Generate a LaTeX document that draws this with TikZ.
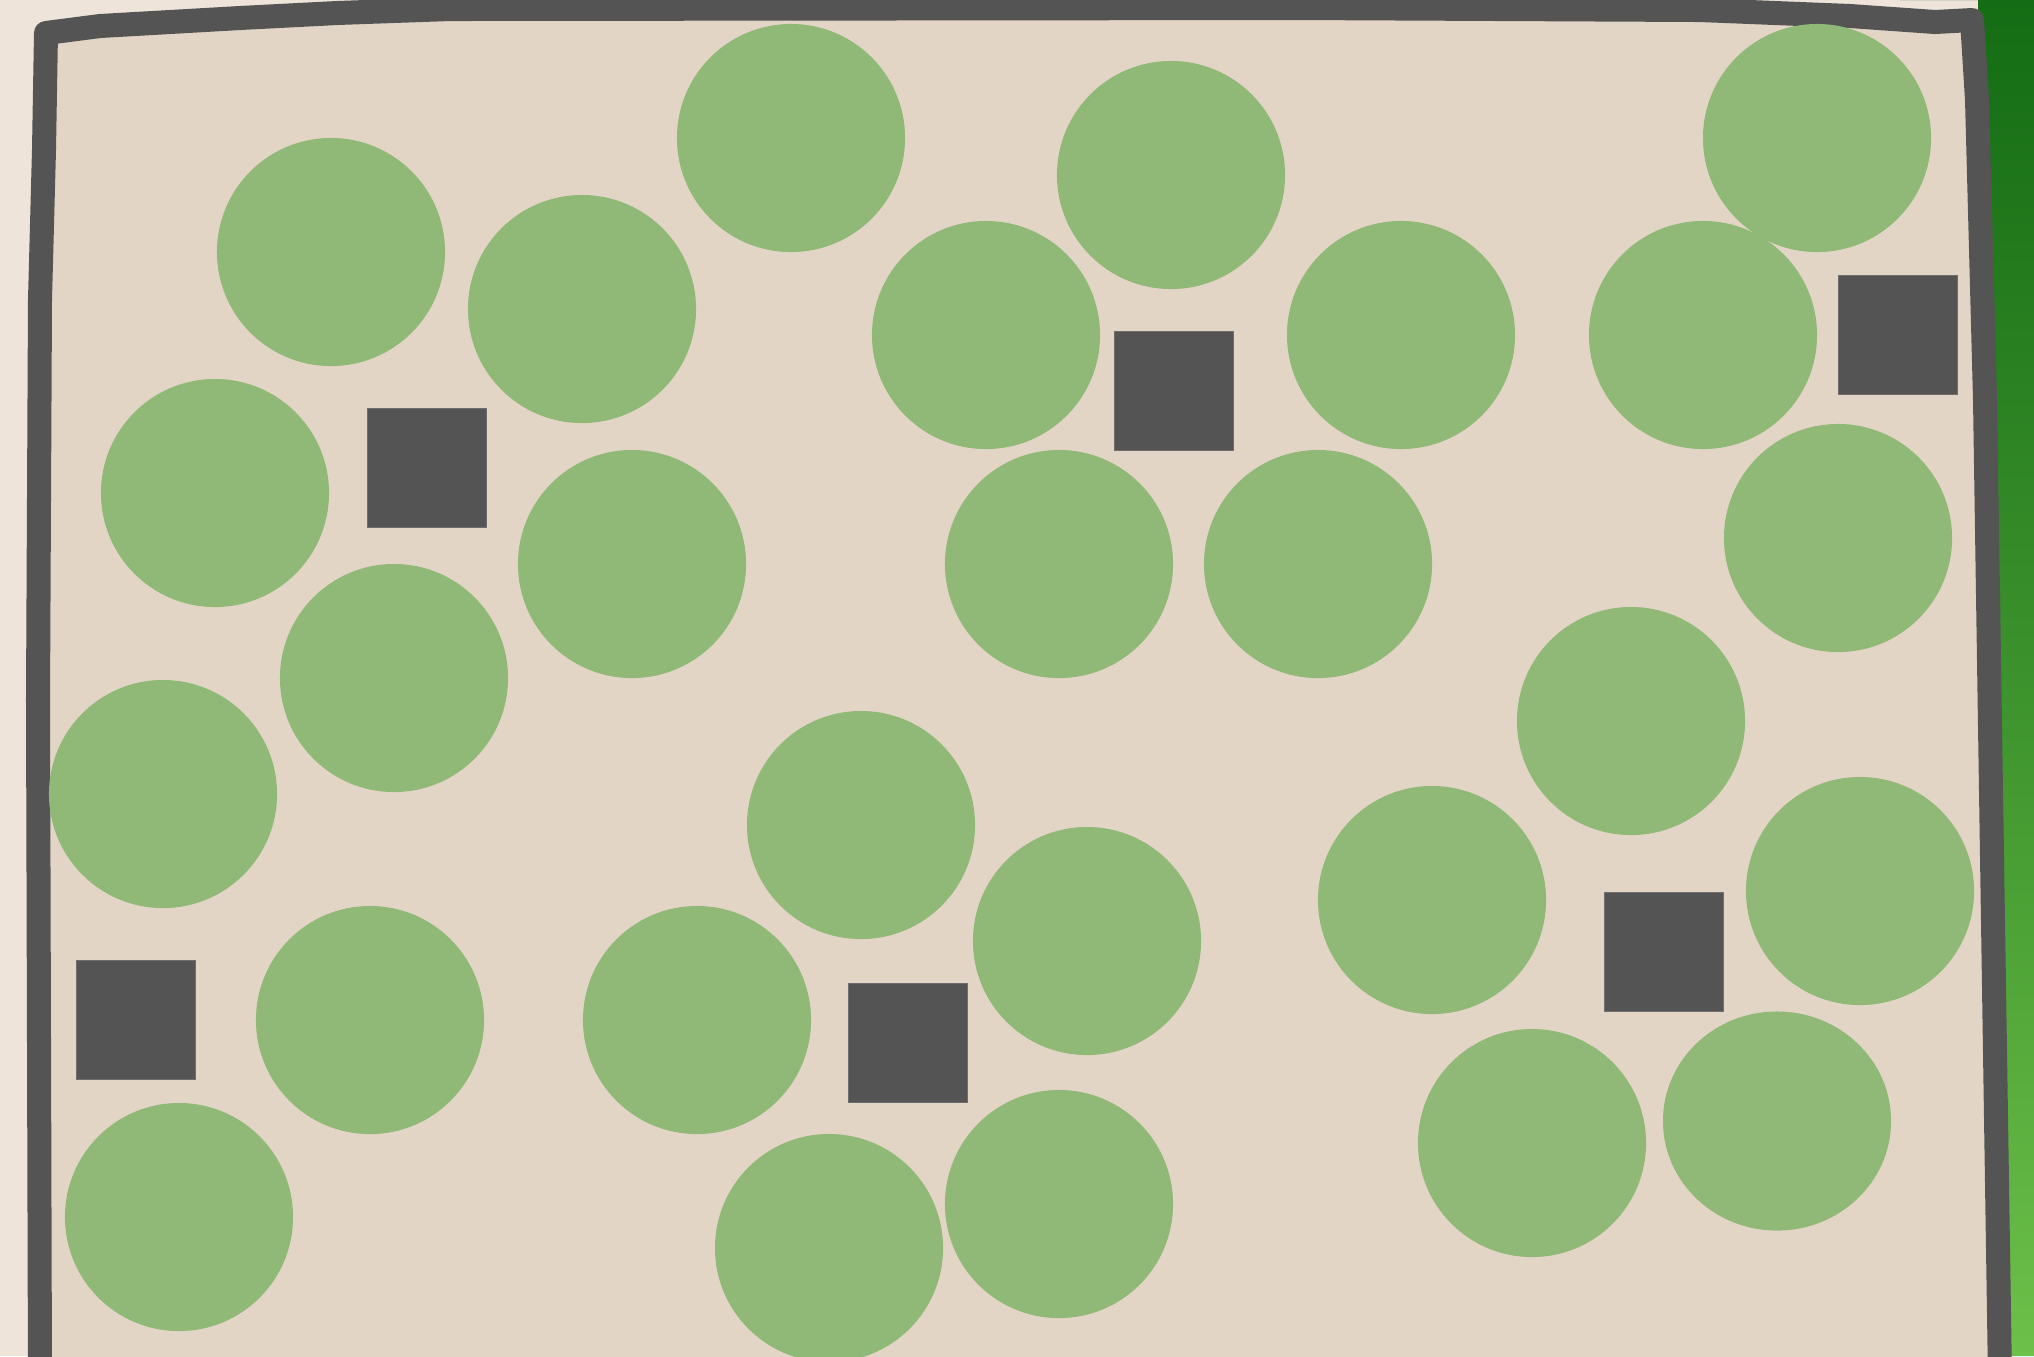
\documentclass[tikz,border=0pt]{standalone}
\usepackage{tikz}
\usetikzlibrary{shapes.geometric}
\definecolor{planout}{HTML}{EEE4DA}
\definecolor{planfloor}{HTML}{E3D5C5}
\definecolor{planwall}{HTML}{545454}
\definecolor{planchair}{HTML}{90B877}
\definecolor{planlawntop}{HTML}{146C14}
\definecolor{planlawnbot}{HTML}{6DC049}
\begin{document}
\begin{tikzpicture}[x=0.01cm, y=-0.01cm,
  chr/.style={circle, fill=planchair, minimum size=2.28cm, inner sep=0pt},
  chrov/.style={ellipse, fill=planchair, minimum width=2.28cm, minimum height=2.19cm, inner sep=0pt},
  tbl/.style={rectangle, fill=planwall, draw=planwall!85!white, line width=0.4pt, minimum size=1.19cm, inner sep=0pt},
  wall/.style={draw=planwall, line width=0.24cm, line join=round, line cap=round}]
\useasboundingbox (0,0) rectangle (2034,1356);
\clip (0,0) rectangle (2034,1356);
% ===== ground round the room =====
\fill[planout] (0,0) rectangle (2034,1356);
\shade[top color=planlawntop, bottom color=planlawnbot, middle color=planlawntop!55!planlawnbot] (1900,0) -- (2034,0) -- (2034,1356) -- (1990,1356) -- (1978,0) -- cycle;
% ===== room floor and wall =====
\draw[wall, fill=planfloor] (40,1380) -- (38,700) -- (40,300) -- (44,150) -- (46,33) -- (100,26) -- (240,18) -- (337,13) -- (450,9) -- (1300,8) -- (1700,10) -- (1850,16) -- (1935,22) -- (1972,20) -- (1977,100) -- (1985,400) -- (2000,1380);
% ===== table A, five chairs =====
\node[tbl] (tA) at (427,468) {};
\node[chr] (cA1) at (331,252) {};
\node[chr] (cA2) at (582,309) {};
\node[chr] (cA3) at (215,493) {};
\node[chr] (cA4) at (632,564) {};
\node[chr] (cA5) at (394,678) {};
% ===== loose chair =====
\node[chr] (cX) at (791,138) {};
% ===== table B, five chairs =====
\node[tbl] (tB) at (1174,391) {};
\node[chr] (cB1) at (1171,175) {};
\node[chr] (cB2) at (986,335) {};
\node[chr] (cB3) at (1401,335) {};
\node[chr] (cB4) at (1059,564) {};
\node[chr] (cB5) at (1318,564) {};
% ===== table C, three chairs =====
\node[tbl] (tC) at (1898,335) {};
\node[chr] (cC1) at (1817,138) {};
\node[chr] (cC2) at (1703,335) {};
\node[chr] (cC3) at (1838,538) {};
% ===== table D, three chairs =====
\node[tbl] (tD) at (136,1020) {};
\node[chr] (cD1) at (163,794) {};
\node[chr] (cD2) at (370,1020) {};
\node[chr] (cD3) at (179,1217) {};
% ===== table E, five chairs =====
\node[tbl] (tE) at (908,1043) {};
\node[chr] (cE1) at (861,825) {};
\node[chr] (cE2) at (1087,941) {};
\node[chr] (cE3) at (697,1020) {};
\node[chr] (cE4) at (1059,1204) {};
\node[chr] (cE5) at (829,1248) {};
% ===== table F, five chairs =====
\node[tbl] (tF) at (1664,952) {};
\node[chr] (cF1) at (1631,721) {};
\node[chr] (cF2) at (1432,900) {};
\node[chr] (cF3) at (1860,891) {};
\node[chr] (cF4) at (1532,1143) {};
\node[chrov] (cF5) at (1777,1121) {};
\end{tikzpicture}
\end{document}
